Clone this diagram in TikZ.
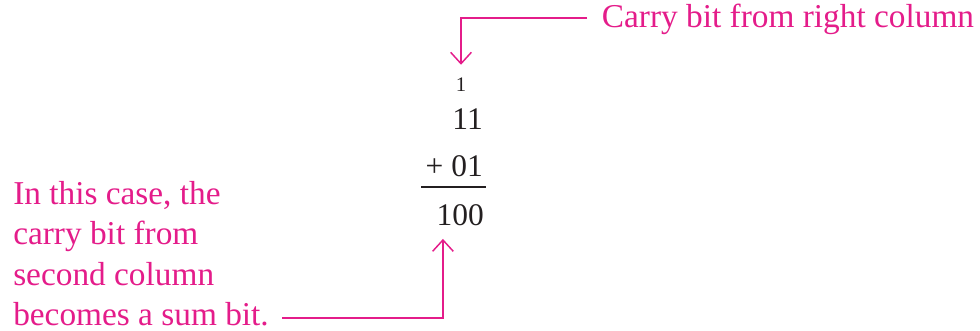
\documentclass[tikz,border=0pt]{standalone}
\usepackage{fontspec}
\setmainfont{Liberation Serif}
\usepackage{tikz}
\usetikzlibrary{arrows.meta,calc}

\definecolor{callout}{RGB}{228,28,138}
\definecolor{digits}{RGB}{35,31,32}

\begin{document}
\begin{tikzpicture}[
  x=0.75pt, y=-0.75pt,
  font=\fontsize{25}{30.4}\selectfont,
  num/.style={inner sep=0pt, text=digits, anchor=base east,
    font=\fontsize{23.6}{28}\selectfont},
  note/.style={inner xsep=11pt, inner ysep=0pt, text=callout, anchor=base west},
  callarrow/.style={-{Straight Barb[length=8.5pt,width=15.5pt]}, draw=callout,
    line width=1.1pt, shorten >=10pt},
  sumrule/.style={draw=digits, line width=1.1pt}
]
\useasboundingbox (0,0) rectangle (980,331);

\node[inner sep=0pt, text=digits, anchor=base, font=\fontsize{15.5}{18}\selectfont]
  (carry) at (461,92) {1};
\node[num] (top) at (483,130) {11};
\node[num] (add) at (483,177) {+ 01};
\node[num] (sum) at (484,225) {100};
\draw[sumrule] (421,187) -- (486,187);

\node[note] (right) at (587,28) {Carry bit from right column};

\node[note, inner xsep=0pt, anchor=north west, align=left] (expl) at (13,181)
  {In this case, the\\ carry bit from\\ second column\\ becomes a sum bit.};
\coordinate (explend) at (282,318);

\draw[callarrow] ([yshift=1.5pt]right.west) -| (carry.north);
\draw[callarrow] (explend) -| ([xshift=5pt]sum.south west);

\end{tikzpicture}
\end{document}
